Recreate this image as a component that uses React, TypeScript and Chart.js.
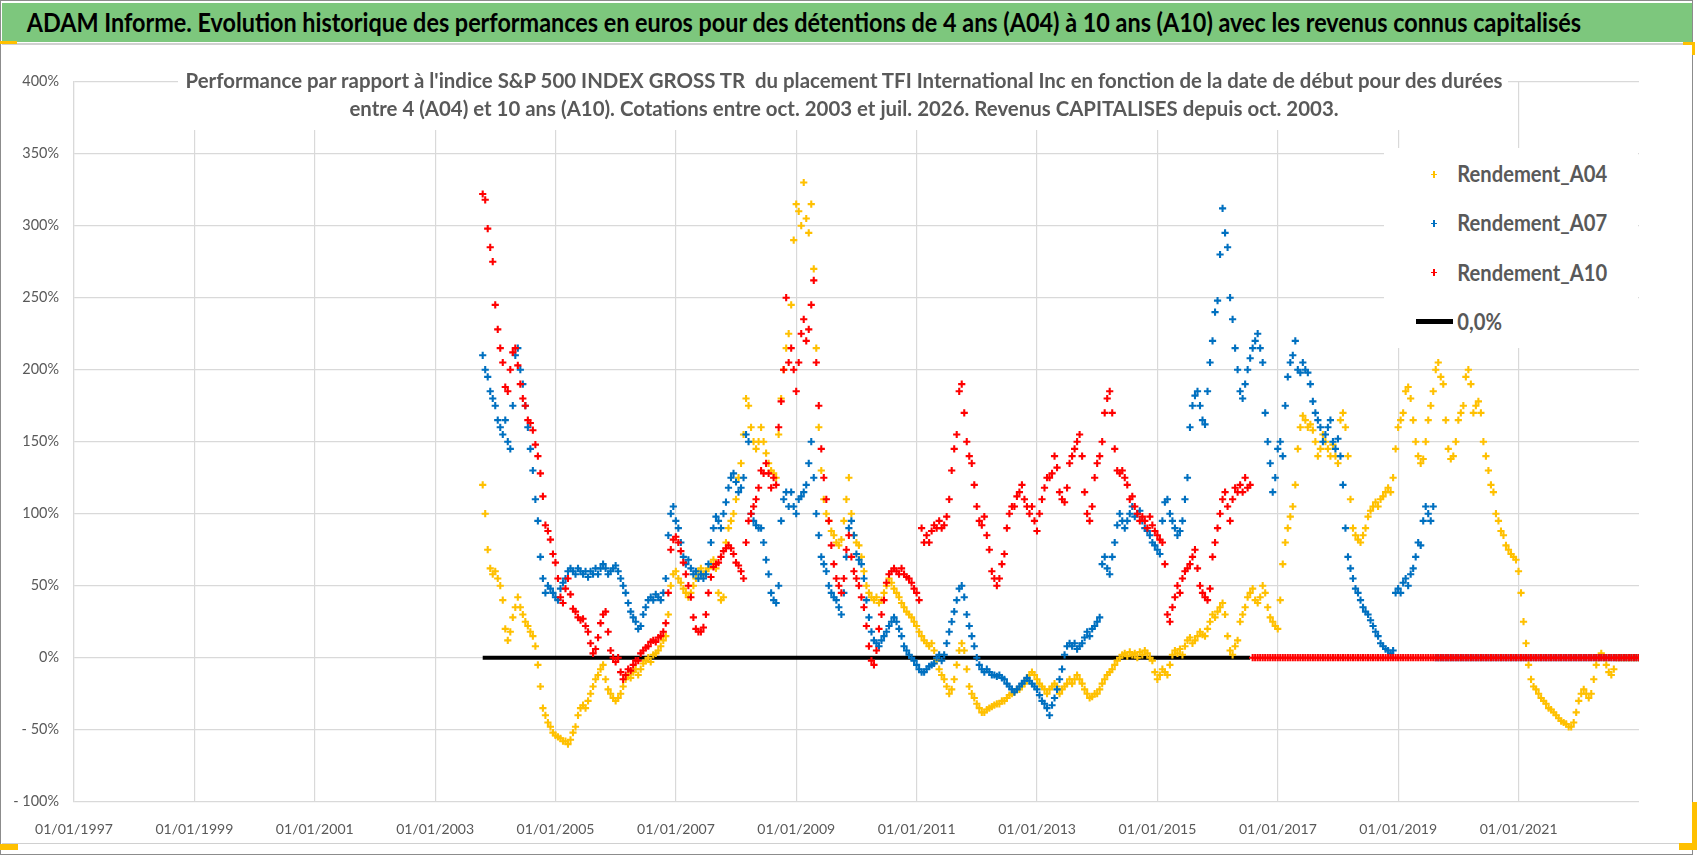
import { useEffect, useMemo, useRef } from "react";
import Chart from "chart.js/auto";

// ---- texts -------------------------------------------------------------
const HEADLINE =
  "ADAM Informe. Evolution historique des performances en euros pour des détentions de 4 ans (A04) à 10 ans (A10) avec les revenus connus capitalisés";
const SUBTITLE_1 =
  "Performance par rapport à l'indice S&P 500 INDEX GROSS TR  du placement TFI International Inc en fonction de la date de début pour des durées";
const SUBTITLE_2 =
  "entre 4 (A04) et 10 ans (A10). Cotations entre oct. 2003 et juil. 2026. Revenus CAPITALISES depuis oct. 2003.";

const SERIES_NAMES = ["Rendement_A04", "Rendement_A07", "Rendement_A10"];
const SERIES_COLORS = ["#FFC000", "#0070C0", "#FF0000"];
const ZERO_LABEL = "0,0%";

// ---- axes --------------------------------------------------------------
const X_MIN = 1997;
const X_MAX = 2023;
const X_TICK_YEARS = [1997, 1999, 2001, 2003, 2005, 2007, 2009, 2011, 2013, 2015, 2017, 2019, 2021];
const Y_MIN = -100;
const Y_MAX = 400;
const Y_STEP = 50;

// ---- data --------------------------------------------------------------
// values are sampled every half month, starting mid-october 2003
const FIRST_DATE = 2003.79;
const DATE_STEP = 1 / 24;
// black reference line at 0 %
const ZERO_LINE_DATES = [2003.79, 2016.54];

// performance (%) for a 4 year holding
const rendementA04 = [
  120, 100, 75, 62, 58, 60, 55, 50, 40, 20,
  12, 18, 28, 35, 42, 35, 30, 25, 22, 18,
  15, 8, -5, -20, -35, -40, -45, -48, -52, -54,
  -55, -56, -58, -58, -60, -57, -52, -48, -40, -35,
  -33, -35, -30, -25, -20, -15, -12, -8, -5, -15,
  -22, -25, -28, -30, -28, -25, -20, -15, -12, -14,
  -10, -8, -12, -8, -4, -2, 0, -3, 2, 3,
  5, 8, 12, 15, 30, 50, 58, 60, 55, 52,
  48, 45, 42, 45, 50, 55, 60, 62, 58, 60,
  62, 65, 68, 62, 45, 40, 42, 80, 90, 95,
  100, 110, 125, 135, 155, 180, 175, 160, 150, 145,
  150, 160, 150, 142, 135, 130, 128, 125, 155, 180,
  200, 215, 225, 245, 290, 315, 310, 300, 330, 305,
  295, 315, 270, 215, 160, 130, 110, 100, 95, 88,
  85, 80, 78, 82, 95, 110, 125, 100, 85, 80,
  78, 70, 60, 50, 45, 42, 40, 42, 38, 40,
  45, 50, 55, 52, 48, 45, 42, 38, 35, 32,
  30, 28, 25, 22, 18, 15, 12, 10, 8, 10,
  5, -2, -8, -12, -15, -20, -25, -22, -15, -5,
  5, 10, 5, -8, -20, -25, -28, -32, -35, -38,
  -38, -36, -35, -34, -33, -32, -32, -30, -30, -28,
  -26, -25, -24, -22, -22, -20, -18, -15, -12, -10,
  -12, -15, -18, -20, -22, -25, -22, -20, -18, -20,
  -25, -22, -20, -18, -15, -18, -15, -12, -15, -18,
  -22, -25, -28, -27, -25, -25, -22, -18, -15, -12,
  -10, -8, -5, -2, 0, 2, 3, 1, 4, 2,
  3, 0, 4, 2, 5, 3, 0, -2, -10, -15,
  -12, -8, -10, -12, -5, 2, 5, 3, 6, 2,
  8, 12, 14, 10, 12, 15, 18, 16, 15, 20,
  25, 30, 28, 32, 35, 38, 30, 15, 5, 2,
  8, 12, 25, 30, 35, 42, 45, 48, 40, 38,
  42, 50, 45, 35, 28, 25, 22, 20, 40, 65,
  80, 90, 98, 105, 120, 145, 160, 168, 165, 160,
  162, 158, 150, 140, 145, 155, 150, 145, 140, 148,
  140, 135, 165, 170, 160, 140, 110, 90, 85, 82,
  80, 85, 90, 98, 102, 105, 108, 105, 110, 112,
  115, 118, 115, 125, 145, 160, 165, 170, 185, 188,
  180, 165, 150, 140, 135, 138, 150, 165, 175, 185,
  200, 205, 195, 190, 165, 145, 138, 140, 150, 165,
  170, 175, 195, 200, 190, 170, 175, 178, 170, 150,
  140, 130, 120, 115, 100, 95, 88, 85, 78, 75,
  72, 70, 68, 60, 45, 25, 10, -5, -15, -20,
  -22, -25, -28, -30, -32, -35, -36, -38, -40, -42,
  -44, -45, -46, -48, -48, -45, -38, -30, -25, -22,
  -25, -28, -25, -15, -5, 0, 3, 0, -5, -10,
  -12, -8,
];

// performance (%) for a 7 year holding
const rendementA07 = [
  210, 200, 195, 185, 180, 175, 165, 160, 155, 165,
  150, 145, 175, 210, 215, 200, 190, 175, 160, 145,
  130, 110, 95, 70, 55, 45, 50, 48, 45, 42,
  40, 48, 52, 55, 60, 62, 60, 58, 62, 60,
  58, 60, 56, 60, 58, 62, 58, 62, 65, 62,
  58, 60, 62, 64, 60, 55, 50, 45, 38, 32,
  28, 25, 20, 22, 30, 35, 40, 42, 40, 44,
  42, 40, 45, 55, 85, 100, 105, 95, 90, 80,
  70, 65, 68, 62, 58, 60, 55, 58, 55, 58,
  65, 80, 90, 98, 95, 90, 100, 108, 118, 125,
  128, 122, 115, 118, 125, 155, 150, 100, 95, 92,
  90, 90, 80, 68, 58, 45, 40, 38, 50, 95,
  110, 115, 105, 115, 105, 100, 110, 112, 115, 120,
  135, 150, 125, 100, 85, 70, 65, 60, 50, 45,
  42, 40, 35, 30, 45, 70, 90, 95, 85, 72,
  68, 65, 55, 40, 28, 18, 12, 10, 8, 12,
  15, 18, 22, 25, 28, 25, 20, 15, 8, 5,
  2, 0, -2, -5, -8, -10, -10, -8, -6, -5,
  -4, 0, 2, -2, 2, 10, 18, 25, 32, 40,
  48, 50, 42, 30, 22, 15, 8, 0, -5, -8,
  -10, -8, -10, -12, -12, -13, -12, -14, -15, -18,
  -20, -22, -24, -22, -20, -18, -16, -14, -16, -18,
  -20, -22, -26, -30, -32, -35, -40, -33, -28, -22,
  -15, -8, 2, 8, 10, 8, 10, 6, 8, 10,
  14, 18, 15, 20, 22, 25, 28, 65, 70, 62,
  58, 70, 80, 92, 100, 95, 90, 95, 100, 105,
  98, 100, 102, 95, 90, 88, 85, 80, 78, 75,
  72, 95, 108, 110, 100, 95, 90, 85, 88, 95,
  110, 125, 160, 175, 182, 185, 175, 165, 162, 185,
  205, 220, 240, 248, 280, 312, 295, 285, 250, 235,
  215, 200, 185, 180, 190, 200, 208, 215, 220, 225,
  215, 205, 170, 150, 135, 115, 125, 145, 150, 140,
  175, 195, 205, 210, 220, 200, 198, 205, 200, 198,
  190, 178, 170, 165, 160, 150, 155, 160, 165, 150,
  145, 152, 140, 120, 90, 70, 62, 55, 48, 45,
  40, 35, 32, 30, 26, 22, 18, 15, 10, 8,
  6, 5, 3, 5, 45, 48, 45, 52, 55, 50,
  58, 62, 70, 80, 78, 95, 105, 100, 95, 105,
];

// performance (%) for a 10 year holding
const rendementA10 = [
  322, 318, 298, 285, 275, 245, 228, 215, 205, 188,
  185, 200, 212, 215, 203, 190, 180, 175, 165, 163,
  158, 148, 140, 128, 112, 92, 88, 82, 72, 66,
  55, 42, 38, 48, 55, 44, 34, 32, 28, 26,
  27, 22, 18, 10, 3, 6, 14, 24, 30, 32,
  18, 5, 0, -3, 0, -10, -15, -12, -8, -9,
  -5, -2, -2, 3, 5, 7, 8, 11, 12, 11,
  14, 15, 18, 24, 45, 75, 82, 84, 80, 74,
  66, 58, 50, 42, 28, 20, 18, 18, 21, 30,
  45, 56, 63, 65, 66, 70, 74, 76, 78, 76,
  72, 66, 64, 60, 55, 80, 95, 100, 105, 110,
  118, 130, 128, 135, 128, 118, 125, 120, 160, 178,
  200, 250, 205, 215, 200, 185, 205, 225, 235, 220,
  228, 245, 262, 205, 175, 145, 125, 110, 95, 78,
  65, 55, 50, 45, 55, 75, 85, 70, 60, 55,
  50, 42, 35, 22, 8, -2, -5, 5, 20, 30,
  40, 52, 58, 60, 62, 60, 58, 62, 58, 56,
  55, 52, 48, 45, 40, 90, 80, 85, 80, 88,
  92, 90, 95, 90, 92, 98, 110, 130, 145, 155,
  185, 190, 170, 150, 140, 135, 120, 105, 95, 92,
  98, 85, 75, 60, 55, 50, 55, 65, 72, 90,
  100, 105, 105, 112, 115, 120, 110, 105, 100, 105,
  95, 88, 100, 110, 118, 125, 125, 128, 140, 132,
  115, 110, 108, 118, 135, 140, 145, 150, 155, 140,
  115, 100, 95, 105, 125, 135, 140, 150, 170, 180,
  185, 170, 145, 130, 128, 130, 125, 120, 110, 112,
  105, 100, 95, 98, 95, 90, 98, 92, 88, 85,
  82, 80, 65, 30, 25, 35, 42, 50, 45, 55,
  60, 62, 65, 70, 75, 62, 50, 45, 42, 40,
  48, 70, 80, 90, 100, 110, 115, 105, 95, 110,
  118, 115, 120, 115, 125, 118, 120,
];

// ---- layout ------------------------------------------------------------
const W = 1698;
const H = 856;
const PLOT = { left: 74, top: 81.7, right: 1639, bottom: 801.7 };
const FONT = "Lato, 'Noto Sans', 'DejaVu Sans', sans-serif";
const TEXT_GREY = "#595959";
const GRID = "#D9D9D9";
const HEADER_GREEN = "#7DC77D";
const MARK_YELLOW = "#FFC000";
// Lato: baseline sits at 0.887 em inside a 1 em line box, caps are 0.717 em tall
const BASELINE_RATIO = 0.887;
const CAP_RATIO = 0.717;

function fitFontSize(text: string, weight: string, targetWidth: number) {
  const ctx = document.createElement("canvas").getContext("2d");
  if (!ctx) return 16;
  ctx.font = `${weight} 100px ${FONT}`;
  return (100 * targetWidth) / ctx.measureText(text).width;
}

// Excel writes 0 where the holding period is not yet complete
function toPoints(values: number[]) {
  const count = Math.floor((X_MAX - FIRST_DATE) / DATE_STEP) + 1;
  const pts: { x: number; y: number }[] = [];
  for (let i = 0; i < count; i++) {
    pts.push({ x: FIRST_DATE + i * DATE_STEP, y: i < values.length ? values[i] : 0 });
  }
  return pts;
}

function Box(props: { l: number; t: number; w: number; h: number; bg: string }) {
  return (
    <div
      style={{
        position: "absolute",
        left: props.l,
        top: props.t,
        width: props.w,
        height: props.h,
        background: props.bg,
      }}
    />
  );
}

function Text(props: {
  text: string;
  left: number;
  baseline: number;
  size: number;
  cap: number;
  color: string;
  bold?: boolean;
  width?: number;
  center?: boolean;
}) {
  const { text, left, baseline, size, cap, color, bold, width, center } = props;
  const stretch = cap / (CAP_RATIO * size);
  return (
    <div
      style={{
        position: "absolute",
        left,
        width,
        top: baseline - BASELINE_RATIO * size,
        fontFamily: FONT,
        fontSize: size,
        lineHeight: `${size}px`,
        fontWeight: bold ? 700 : 400,
        color,
        whiteSpace: "pre",
        textAlign: center ? "center" : "left",
        transform: `scaleY(${stretch})`,
        transformOrigin: `0 ${BASELINE_RATIO * size}px`,
      }}
    >
      {text}
    </div>
  );
}

function Plus(props: { cx: number; cy: number; color: string }) {
  const { cx, cy, color } = props;
  return (
    <>
      <Box l={cx - 3} t={cy - 0.6} w={6} h={1.2} bg={color} />
      <Box l={cx - 0.6} t={cy - 3.3} w={1.2} h={6.6} bg={color} />
    </>
  );
}

export default function App() {
  const canvasRef = useRef<HTMLCanvasElement | null>(null);
  const chartRef = useRef<Chart | null>(null);

  const sizes = useMemo(
    () => ({
      headline: fitFontSize(HEADLINE, "bold", 1556),
      subtitle: fitFontSize(SUBTITLE_1, "bold", 1320),
      legend: fitFontSize(SERIES_NAMES[0], "bold", 150),
      xTick: fitFontSize("01/01/2021", "normal", 78),
      yTick: fitFontSize("400%", "normal", 36.7),
    }),
    []
  );

  useEffect(() => {
    if (!canvasRef.current) return;
    if (chartRef.current) chartRef.current.destroy();

    const seriesValues = [rendementA04, rendementA07, rendementA10];

    chartRef.current = new Chart(canvasRef.current, {
      type: "scatter",
      data: {
        datasets: [
          ...seriesValues.map((values, k) => ({
            label: SERIES_NAMES[k],
            data: toPoints(values),
            pointStyle: "cross" as const,
            pointRadius: 3.6,
            pointHoverRadius: 3.6,
            pointBorderWidth: 2.1,
            pointBorderColor: SERIES_COLORS[k],
            pointBackgroundColor: SERIES_COLORS[k],
            borderColor: SERIES_COLORS[k],
            backgroundColor: SERIES_COLORS[k],
            showLine: false,
            order: 3 - k,
          })),
          {
            type: "line" as const,
            label: ZERO_LABEL,
            data: ZERO_LINE_DATES.map((x) => ({ x, y: 0 })),
            borderColor: "#000000",
            borderWidth: 4,
            pointRadius: 0,
            showLine: true,
            order: 4,
          },
        ],
      },
      options: {
        animation: false,
        responsive: false,
        events: [],
        layout: { padding: { left: 0, top: PLOT.top, right: W - PLOT.right, bottom: 0 } },
        plugins: {
          legend: { display: false },
          tooltip: { enabled: false },
          title: { display: false },
        },
        scales: {
          x: {
            type: "linear",
            min: X_MIN,
            max: X_MAX,
            afterBuildTicks: (scale) => {
              scale.ticks = X_TICK_YEARS.map((value) => ({ value }));
            },
            afterFit: (scale) => {
              scale.height = H - PLOT.bottom;
            },
            ticks: {
              autoSkip: false,
              maxRotation: 0,
              padding: 19,
              color: TEXT_GREY,
              font: { family: FONT, size: sizes.xTick },
              callback: (v) => `01/01/${v}`,
            },
            grid: { color: GRID, lineWidth: 1.2, drawTicks: false },
            border: { display: false },
          },
          y: {
            min: Y_MIN,
            max: Y_MAX,
            afterFit: (scale) => {
              scale.width = PLOT.left;
            },
            ticks: {
              stepSize: Y_STEP,
              padding: 15,
              color: TEXT_GREY,
              font: { family: FONT, size: sizes.yTick },
              callback: (v) => (Number(v) < 0 ? `- ${-Number(v)}%` : `${v}%`),
            },
            grid: { color: GRID, lineWidth: 1.2, drawTicks: false },
            border: { display: true, color: GRID, width: 1.2 },
          },
        },
      },
    });

    return () => {
      chartRef.current?.destroy();
      chartRef.current = null;
    };
  }, [sizes]);

  const legendRows = [174.5, 223.5, 272.7, 321.7];

  return (
    <div
      style={{
        position: "fixed",
        left: 0,
        top: 0,
        width: W,
        height: H,
        background: "#ffffff",
        overflow: "hidden",
      }}
    >
      {/* frame */}
      <div
        style={{
          position: "absolute",
          left: 0,
          top: 0,
          width: 1693,
          height: 855,
          border: "1.5px solid #8C8C8C",
          boxSizing: "border-box",
        }}
      />
      <Box l={1.5} t={2.5} w={1690} h={39.5} bg={HEADER_GREEN} />
      <Box l={1.5} t={43} w={1690} h={1.5} bg="#D0D0D0" />
      <Box l={1.5} t={842.5} w={1690} h={1.5} bg="#D0D0D0" />
      <Box l={0} t={40.5} w={17} h={3} bg={MARK_YELLOW} />
      <Box l={0} t={844} w={18} h={6} bg={MARK_YELLOW} />
      <Box l={1683} t={42} w={12} h={3} bg={MARK_YELLOW} />
      <Box l={1691.5} t={42} w={3.5} h={13} bg={MARK_YELLOW} />
      <Box l={1692} t={802} w={5} h={48} bg={MARK_YELLOW} />
      <Box l={1679} t={843} w={18} h={7} bg={MARK_YELLOW} />

      <Text
        text={HEADLINE}
        left={26.7}
        baseline={33}
        size={sizes.headline}
        cap={18.5}
        color="#000000"
        bold
      />

      <canvas
        ref={canvasRef}
        width={W}
        height={H}
        style={{ position: "absolute", left: 0, top: 0, width: W, height: H }}
      />

      {/* chart title, drawn over the plot like Excel does */}
      <Box l={178} t={60} w={1330} h={70} bg="#ffffff" />
      <Text
        text={SUBTITLE_1}
        left={144}
        width={1400}
        center
        baseline={88}
        size={sizes.subtitle}
        cap={15.5}
        color={TEXT_GREY}
        bold
      />
      <Text
        text={SUBTITLE_2}
        left={144}
        width={1400}
        center
        baseline={116.5}
        size={sizes.subtitle}
        cap={15.5}
        color={TEXT_GREY}
        bold
      />

      {/* legend */}
      <Box l={1384} t={148} w={254} h={200} bg="#ffffff" />
      {SERIES_NAMES.map((name, k) => (
        <div key={name}>
          <Plus cx={1434} cy={legendRows[k]} color={SERIES_COLORS[k]} />
          <Text
            text={name}
            left={1457.3}
            baseline={legendRows[k] + 7.8}
            size={sizes.legend}
            cap={15.7}
            color={TEXT_GREY}
            bold
          />
        </div>
      ))}
      <Box l={1415.7} t={legendRows[3] - 2.25} w={37} h={4.5} bg="#000000" />
      <Text
        text={ZERO_LABEL}
        left={1457.3}
        baseline={legendRows[3] + 7.8}
        size={sizes.legend}
        cap={15.7}
        color={TEXT_GREY}
        bold
      />
    </div>
  );
}
